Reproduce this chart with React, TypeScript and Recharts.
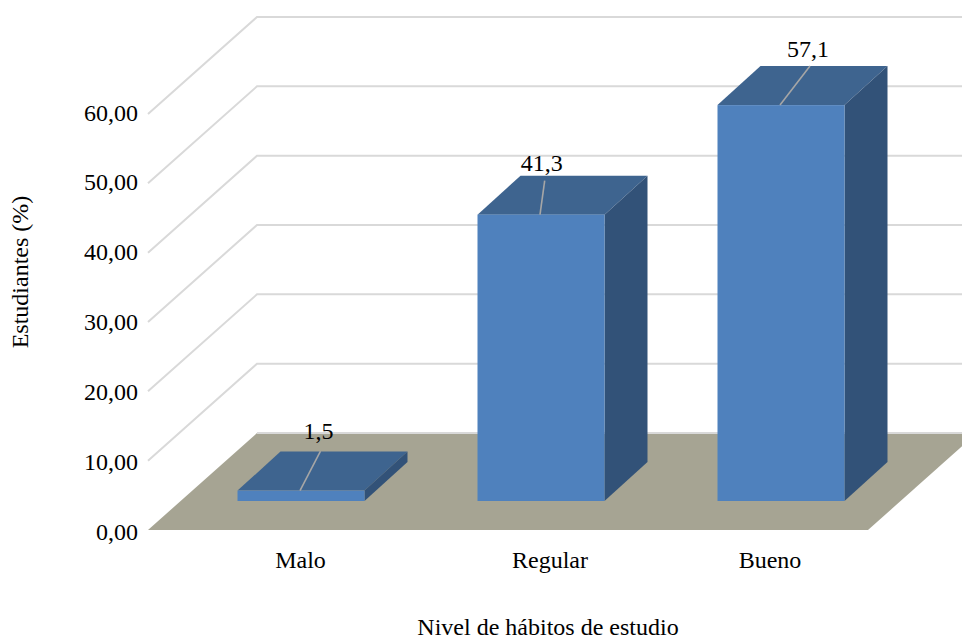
import { BarChart, Bar, XAxis, YAxis, CartesianGrid, LabelList, Label } from 'recharts';

const categories = ['Malo', 'Regular', 'Bueno'];
const percentages = [1.5, 41.3, 57.1];
const yTicks = [0, 10, 20, 30, 40, 50, 60];
const valueLabels = ['1,5', '41,3', '57,1'];

const data = categories.map((name, i) => ({ name, value: percentages[i] }));

const FONT = '"Liberation Serif", serif';
const FONT_SIZE = 24;

// fake 3D: depth of the floor and of each bar, in pixels
const FLOOR_DX = 109;
const FLOOR_DY = 97;
const BAR_DX = 43;
const BAR_DY = 39;
const BAR_SHIFT_X = 32.5;
const BAR_SHIFT_Y = 29;

const leaderEnds = [
  [20.5, -39.5],
  [4.7, -34],
  [30, -39],
];
const labelOffsets = [
  [17.5, -52],
  [0.7, -44],
  [27, -48],
];
const tickShifts = [32.5, 42, 22];

const GridLine = (props: any) => {
  const { x1, x2, y1 } = props;
  const bx = x1 + FLOOR_DX;
  const by = y1 - FLOOR_DY;
  if (y1 > 500) {
    return (
      <g>
        <polygon
          points={`${x1},${y1} ${x2},${y1} ${x2 + FLOOR_DX},${by} ${bx},${by}`}
          fill="#A6A493"
        />
        <line x1={bx} y1={by} x2={962} y2={by} stroke="#D9D9D9" strokeWidth={2} />
      </g>
    );
  }
  return (
    <polyline
      points={`${x1},${y1} ${bx},${by} 962,${by}`}
      fill="none"
      stroke="#D9D9D9"
      strokeWidth={2}
    />
  );
};

const Box3D = (props: any) => {
  const { x, y, width, height } = props;
  const l = x + BAR_SHIFT_X;
  const r = l + width;
  const t = y - BAR_SHIFT_Y;
  const b = t + height;
  return (
    <g>
      <polygon
        points={`${l},${t} ${r},${t} ${r + BAR_DX},${t - BAR_DY} ${l + BAR_DX},${t - BAR_DY}`}
        fill="#3E648F"
      />
      <polygon
        points={`${r},${t} ${r + BAR_DX},${t - BAR_DY} ${r + BAR_DX},${b - BAR_DY} ${r},${b}`}
        fill="#325278"
      />
      <rect x={l} y={t} width={width} height={height} fill="#4F81BD" />
    </g>
  );
};

const ValueLabel = (props: any) => {
  const { x, y, width, index } = props;
  const cx = x + BAR_SHIFT_X + width / 2;
  const t = y - BAR_SHIFT_Y;
  return (
    <g>
      <line
        x1={cx - 1}
        y1={t}
        x2={cx - 1 + leaderEnds[index][0]}
        y2={t + leaderEnds[index][1]}
        stroke="#A6A6A6"
        strokeWidth={1.6}
      />
      <text
        x={cx + labelOffsets[index][0]}
        y={t + labelOffsets[index][1]}
        textAnchor="middle"
        fontFamily={FONT}
        fontSize={FONT_SIZE}
        fill="#000"
      >
        {valueLabels[index]}
      </text>
    </g>
  );
};

const CategoryTick = (props: any) => {
  const { x, y, payload, index } = props;
  return (
    <text
      x={x + tickShifts[index]}
      y={y + 30}
      textAnchor="middle"
      fontFamily={FONT}
      fontSize={FONT_SIZE}
      fill="#000"
    >
      {payload.value}
    </text>
  );
};

// the labels in the original are spaced a touch wider than the grid
const ValueTick = (props: any) => {
  const { x, y, payload } = props;
  const drift = (y - 114) * 0.0084;
  return (
    <text x={x} y={y + 6.5 + drift} textAnchor="end" fontFamily={FONT} fontSize={FONT_SIZE} fill="#000">
      {payload.value.toFixed(2).replace('.', ',')}
    </text>
  );
};

export default function App() {
  return (
    <div style={{ position: 'absolute', left: 0, top: 0, width: 962, height: 637, overflow: 'hidden', background: '#fff' }}>
      <BarChart
        width={962}
        height={637}
        data={data}
        margin={{ top: 114, right: 94, bottom: 0, left: 0 }}
        barSize={127}
      >
        <CartesianGrid vertical={false} horizontal={(p: any) => <GridLine key={p.key} {...p} />} />
        <XAxis
          dataKey="name"
          height={107}
          axisLine={false}
          tickLine={false}
          interval={0}
          tick={(p: any) => <CategoryTick {...p} />}
        >
          <Label
            value="Nivel de hábitos de estudio"
            position="insideBottom"
            dx={40}
            offset={2}
            style={{ fontFamily: FONT, fontSize: FONT_SIZE, fill: '#000' }}
          />
        </XAxis>
        <YAxis
          width={148}
          domain={[0, 60]}
          ticks={yTicks}
          interval={0}
          axisLine={false}
          tickLine={false}
          tickMargin={4}
          tick={(p: any) => <ValueTick {...p} />}
        >
          <Label
            value="Estudiantes (%)"
            angle={-90}
            position="insideLeft"
            dx={14}
            dy={-50}
            style={{ fontFamily: FONT, fontSize: FONT_SIZE, fill: '#000', textAnchor: 'middle' }}
          />
        </YAxis>
        <Bar dataKey="value" isAnimationActive={false} shape={(p: any) => <Box3D {...p} />}>
          <LabelList dataKey="value" content={(p: any) => <ValueLabel {...p} />} />
        </Bar>
      </BarChart>
    </div>
  );
}
